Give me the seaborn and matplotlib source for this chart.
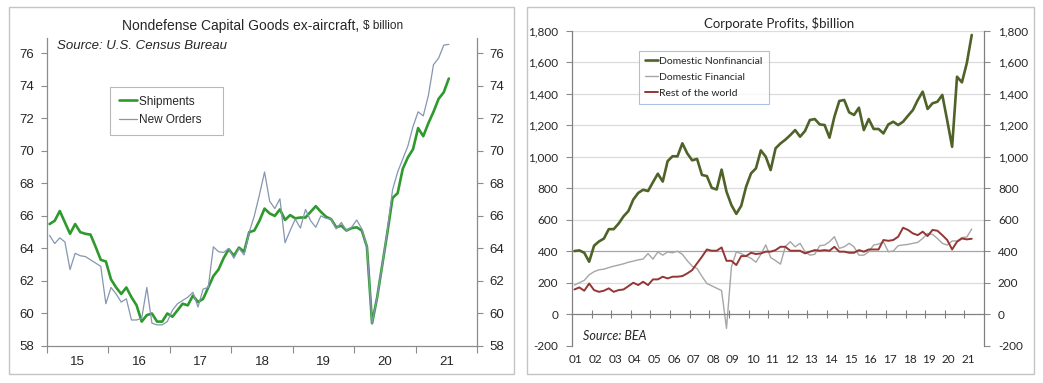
import numpy as np
import pandas as pd
import matplotlib
matplotlib.use("Agg")
import matplotlib.pyplot as plt
from matplotlib.patches import Rectangle
from matplotlib.ticker import FuncFormatter
import seaborn as sns

# Nondefense capital goods ex-aircraft, monthly from Jan 2015 ($ billion)
shipments = [65.5, 65.7, 66.3, 65.6, 64.9, 65.5, 65.0, 64.9, 64.85, 64.1,
             63.3, 63.2, 62.1, 61.6, 61.2, 61.6, 61.0, 60.5, 59.5, 59.9,
             60.0, 59.5, 59.5, 60.0, 59.8, 60.2, 60.6, 60.5, 61.1, 60.7,
             60.9, 61.6, 62.3, 62.7, 63.4, 63.95, 63.55, 64.05, 63.8, 65.0,
             65.1, 65.7, 66.45, 66.15, 66.0, 66.4, 65.75, 66.05, 65.85, 65.9,
             65.9, 66.25, 66.6, 66.25, 65.95, 65.8, 65.3, 65.4, 65.1, 65.25,
             65.3, 65.1, 64.1, 59.4, 61.0, 63.0, 65.0, 67.1, 67.4, 68.9,
             69.6, 70.1, 71.4, 70.9, 71.7, 72.4, 73.2, 73.6, 74.45]
new_orders = [64.8, 64.3, 64.65, 64.4, 62.7, 63.7, 63.55, 63.5, 63.3, 63.1,
              62.9, 60.6, 61.6, 61.2, 60.7, 60.9, 59.6, 59.6, 59.7, 61.6,
              59.4, 59.3, 59.3, 59.5, 60.2, 60.6, 60.8, 61.0, 61.3, 60.4,
              61.5, 61.6, 64.1, 63.8, 63.75, 64.0, 63.4, 64.0, 63.6, 65.0,
              66.0, 67.3, 68.7, 66.9, 66.45, 67.05, 64.35, 65.1, 65.8, 65.25,
              66.4, 65.7, 65.3, 66.0, 65.85, 65.8, 65.2, 65.6, 65.1, 65.3,
              65.75, 65.2, 64.1, 59.4, 61.0, 63.0, 65.1, 67.6, 68.7, 69.5,
              70.3, 71.5, 72.4, 72.15, 73.4, 75.3, 75.7, 76.5, 76.55]
cap_years = ["15", "16", "17", "18", "19", "20", "21"]

# Corporate profits, quarterly from 2001Q1 ($ billion)
nonfinancial = [401, 405, 390, 333, 435, 462, 480, 540, 540, 575,
                621, 655, 728, 770, 790, 782, 838, 892, 842, 972,
                1003, 1002, 1085, 1021, 977, 986, 884, 877, 802, 792,
                918, 778, 693, 637, 688, 810, 894, 926, 1040, 1000,
                915, 1053, 1084, 1108, 1137, 1169, 1127, 1163, 1233, 1239,
                1205, 1201, 1121, 1254, 1354, 1360, 1282, 1265, 1311, 1169,
                1239, 1176, 1176, 1148, 1205, 1222, 1201, 1222, 1260, 1296,
                1360, 1413, 1303, 1339, 1349, 1392, 1230, 1063, 1508, 1472,
                1595, 1773]
financial = [185, 200, 215, 250, 270, 282, 286, 296, 305, 312,
             320, 330, 337, 345, 350, 385, 350, 395, 375, 395,
             390, 400, 380, 340, 305, 290, 240, 195, 180, 165,
             150, -90, 300, 395, 385, 370, 355, 330, 380, 440,
             360, 340, 318, 430, 460, 428, 450, 397, 375, 380,
             435, 439, 460, 492, 418, 428, 450, 428, 375, 375,
             397, 439, 445, 460, 397, 401, 435, 440, 443, 450,
             456, 481, 513, 507, 481, 450, 439, 465, 465, 486,
             490, 541]
rest_of_world = [157, 170, 149, 195, 153, 142, 149, 164, 142, 153,
                 157, 178, 200, 185, 206, 185, 221, 221, 238, 227,
                 238, 238, 242, 259, 280, 323, 365, 411, 403, 403,
                 424, 339, 339, 312, 369, 369, 390, 382, 386, 397,
                 397, 407, 428, 428, 403, 403, 403, 386, 397, 407,
                 403, 407, 403, 428, 397, 397, 390, 390, 407, 397,
                 411, 411, 411, 471, 466, 471, 492, 549, 535, 513,
                 502, 524, 496, 535, 530, 502, 471, 411, 460, 481,
                 475, 479]
profit_years = [f"{y:02d}" for y in range(1, 22)]

sns.set_theme(style="white")
plt.rcParams["font.family"] = ["Liberation Sans", "DejaVu Sans"]

spine_c = "#8c8c8c"
text_c = "#262626"

month_x = 2015 + (np.arange(len(shipments)) + 0.5) / 12
quarter_x = 2001 + (np.arange(len(nonfinancial)) + 0.5) / 4
cap = pd.DataFrame({"x": month_x, "Shipments": shipments, "New Orders": new_orders})
prof = pd.DataFrame({"x": quarter_x, "Domestic Nonfinancial": nonfinancial,
                     "Domestic Financial": financial, "Rest of the world": rest_of_world})

W, H = 1043, 383
fig = plt.figure(figsize=(W / 100, H / 100), dpi=100)

# panel frames
for x0, x1 in [(9, 514), (527, 1034)]:
    fig.add_artist(Rectangle((x0 / W, (H - 374) / H), (x1 - x0) / W, 367 / H,
                             transform=fig.transFigure, fill=False,
                             ec="#c4c4c4", lw=1))

# ---------- left: capital goods ----------
ax1 = fig.add_axes([47 / W, (H - 346) / H, 430 / W, 308 / H])
sns.lineplot(data=cap, x="x", y="Shipments", ax=ax1, color="#2e9a2e",
             lw=1.9, label="Shipments")
sns.lineplot(data=cap, x="x", y="New Orders", ax=ax1, color="#8496b0",
             lw=0.9, label="New Orders")
ax1.set_xlim(2015, 2022)
ax1.set_ylim(58, 76.94)
ax1.set_yticks(range(58, 77, 2))
ax1.set_xticks(np.arange(2015, 2023), labels=[""] * 8)
ax1.set_xticks(np.arange(2015, 2022) + 0.5, labels=cap_years, minor=True)
ax1.tick_params(axis="y", left=True, right=True, labelleft=True, labelright=True,
                direction="out", length=4, width=0.8, color=spine_c,
                labelsize=9.5, labelcolor=text_c, pad=5)
ax1.tick_params(axis="x", which="major", bottom=True, direction="out",
                length=5, width=0.8, color=spine_c)
ax1.tick_params(axis="x", which="minor", bottom=True, length=0,
                labelsize=9.5, labelcolor=text_c, pad=7)
ax1.set_xlabel("")
ax1.set_ylabel("")
ax1.spines["top"].set_visible(False)
for s in ["left", "right", "bottom"]:
    ax1.spines[s].set_color(spine_c)
    ax1.spines[s].set_linewidth(0.9)
ax1.text(0.023, 0.975, "Source: U.S. Census Bureau", transform=ax1.transAxes,
         fontsize=9.5, style="italic", color=text_c, va="center", ha="left")
leg1 = ax1.legend(loc="upper left", bbox_to_anchor=(0.147, 0.842), borderaxespad=0,
                  fontsize=8.5, frameon=True, fancybox=False, edgecolor="#a6a6a6",
                  handlelength=1.5, handletextpad=0.15, labelspacing=0.55,
                  borderpad=0.75)
leg1.get_frame().set_linewidth(0.8)
for t in leg1.get_texts():
    t.set_color(text_c)
    t.set_text(t.get_text() + "    ")  # Excel-style padding on the right
fig.text(359 / W, 1 - 26 / H, "Nondefense Capital Goods ex-aircraft,", ha="right",
         va="center", fontsize=10, color=text_c)
fig.text(363 / W, 1 - 26 / H, "$ billion", ha="left", va="center",
         fontsize=8.5, color=text_c)

# ---------- right: corporate profits ----------
lato = ["Lato", "DejaVu Sans"]
ax2 = fig.add_axes([572 / W, (H - 345.7) / H, 412 / W, 315 / H])
for y in range(200, 1801, 200):
    ax2.axhline(y, color="#a6a6a6" if y == 400 else "#dcdcdc", lw=0.9, zorder=0)
sns.lineplot(data=prof, x="x", y="Domestic Nonfinancial", ax=ax2, color="#4f6228",
             lw=1.9, label="Domestic Nonfinancial")
sns.lineplot(data=prof, x="x", y="Domestic Financial", ax=ax2, color="#a6a6a6",
             lw=1.0, label="Domestic Financial")
sns.lineplot(data=prof, x="x", y="Rest of the world", ax=ax2, color="#943634",
             lw=1.4, label="Rest of the world")
ax2.set_xlim(2001, 2022)
ax2.set_ylim(-200, 1800)
ax2.set_yticks(range(-200, 1801, 200))
ax2.yaxis.set_major_formatter(FuncFormatter(lambda v, p: f"{v:,.0f}"))
ax2.tick_params(axis="y", left=True, right=True, labelleft=True, labelright=True,
                direction="out", length=4, width=0.8, color=spine_c,
                labelsize=8.5, labelcolor=text_c, pad=6)
ax2.spines["bottom"].set_position(("data", 0))
ax2.set_xticks(np.arange(2002, 2022), labels=[""] * 20)
ax2.tick_params(axis="x", bottom=True, direction="inout", length=6, width=0.8,
                color="#808080")
ax2.set_xlabel("")
ax2.set_ylabel("")
ax2.spines["top"].set_visible(False)
for s in ["left", "right", "bottom"]:
    ax2.spines[s].set_color("#808080")
    ax2.spines[s].set_linewidth(0.9)
sec = ax2.secondary_xaxis(0)
sec.set_xticks(np.arange(2001, 2022) + 0.2, labels=profit_years)
sec.tick_params(length=0, labelsize=8.5, labelcolor=text_c, pad=6)
sec.spines["bottom"].set_visible(False)
for lab in sec.get_xticklabels():
    lab.set_family(lato)
for lab in ax2.yaxis.get_majorticklabels():
    lab.set_family(lato)
ax2.text(0.027, 0.031, "Source: BEA", transform=ax2.transAxes, fontsize=9,
         style="italic", color=text_c, va="center", ha="left", family=lato)
leg2 = ax2.legend(loc="upper left", bbox_to_anchor=(0.163, 0.936), borderaxespad=0,
                  prop={"family": lato, "size": 7.5}, frameon=True, fancybox=False,
                  edgecolor="#95b3d7", handlelength=1.3, handletextpad=0.1,
                  labelspacing=0.65, borderpad=0.55)
leg2.get_frame().set_linewidth(0.8)
for t in leg2.get_texts():
    t.set_color(text_c)
fig.text(779 / W, 1 - 23 / H, "Corporate Profits, $billion", ha="center",
         va="center", fontsize=9.5, color=text_c, family=lato)

fig.savefig("out.png", dpi=100, facecolor="white")
